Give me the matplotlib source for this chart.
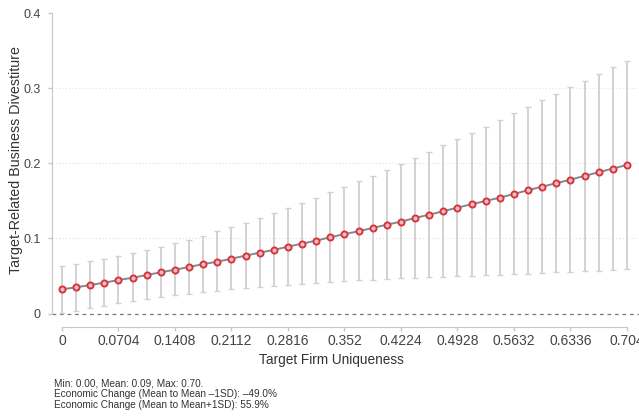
"""
Marginal effect of target firm uniqueness on target-related business divestiture.
Predicted values with 95% confidence intervals across the uniqueness range.
"""

import numpy as np
import matplotlib.pyplot as plt

# ──────────────────────────────────────────────
# Data
# ──────────────────────────────────────────────
uniqueness = np.round(np.arange(41) * 0.0176, 4)

predicted = [
    0.0323, 0.0349, 0.0380, 0.0411, 0.0447, 0.0476, 0.0513, 0.0549, 0.0584, 0.0620,
    0.0658, 0.0690, 0.0731, 0.0771, 0.0811, 0.0847, 0.0891, 0.0931, 0.0971, 0.1016,
    0.1058, 0.1096, 0.1140, 0.1184, 0.1224, 0.1273, 0.1317, 0.1363, 0.1411, 0.1456,
    0.1500, 0.1544, 0.1593, 0.1643, 0.1691, 0.1736, 0.1784, 0.1833, 0.1883, 0.1931,
    0.1980,
]
ci_upper = [
    0.0637, 0.0664, 0.0700, 0.0730, 0.0767, 0.0807, 0.0847, 0.0887, 0.0940, 0.0984,
    0.1037, 0.1100, 0.1153, 0.1211, 0.1273, 0.1336, 0.1403, 0.1473, 0.1540, 0.1620,
    0.1689, 0.1763, 0.1837, 0.1917, 0.1997, 0.2073, 0.2157, 0.2243, 0.2323, 0.2411,
    0.2491, 0.2580, 0.2669, 0.2753, 0.2843, 0.2931, 0.3016, 0.3104, 0.3193, 0.3283,
    0.3371,
]
ci_lower = [
    0.0010, 0.0037, 0.0073, 0.0104, 0.0136, 0.0163, 0.0190, 0.0220, 0.0243, 0.0264,
    0.0283, 0.0304, 0.0323, 0.0344, 0.0357, 0.0371, 0.0384, 0.0397, 0.0407, 0.0420,
    0.0429, 0.0443, 0.0451, 0.0460, 0.0469, 0.0477, 0.0483, 0.0491, 0.0496, 0.0504,
    0.0509, 0.0517, 0.0527, 0.0531, 0.0540, 0.0549, 0.0553, 0.0563, 0.0571, 0.0580,
    0.0589,
]

x_ticks = [0, 0.0704, 0.1408, 0.2112, 0.2816, 0.352, 0.4224, 0.4928, 0.5632, 0.6336, 0.704]
x_tick_labels = ["0", "0.0704", "0.1408", "0.2112", "0.2816", "0.352",
                 "0.4224", "0.4928", "0.5632", "0.6336", "0.704"]
y_ticks = [0, 0.1, 0.2, 0.3, 0.4]
y_tick_labels = ["0", "0.1", "0.2", "0.3", "0.4"]

notes = [
    "Min: 0.00, Mean: 0.09, Max: 0.70.",
    "Economic Change (Mean to Mean \u20131SD): \u201349.0%",
    "Economic Change (Mean to Mean+1SD): 55.9%",
]

# ──────────────────────────────────────────────
# Plot
# ──────────────────────────────────────────────
plt.rcParams.update({
    "font.family": ["Liberation Sans", "DejaVu Sans"],
    "axes.edgecolor": "#c8c8c8",
    "xtick.color": "#c8c8c8",
    "ytick.color": "#c8c8c8",
    "xtick.labelcolor": "#444444",
    "ytick.labelcolor": "#444444",
})

W, H = 639, 417
fig = plt.figure(figsize=(W / 100, H / 100), dpi=100)
ax = fig.add_axes([52 / W, 1 - 313.5 / H, 587 / W, 300.2 / H])

pred = np.array(predicted)
lo = np.array(ci_lower)
hi = np.array(ci_upper)

# Confidence intervals
ax.errorbar(
    uniqueness, pred, yerr=[pred - lo, hi - pred],
    fmt="none", ecolor="#d2d2d2", elinewidth=1.4, capsize=2.3, capthick=1.0,
    zorder=2,
)

# Predicted values
ax.plot(
    uniqueness, pred,
    color="#7d8a90", linewidth=1.4,
    marker="o", markersize=4.4, markerfacecolor="#f5c0c2",
    markeredgecolor="#d8343c", markeredgewidth=1.4,
    zorder=3,
)

# Reference line at zero
ax.axhline(0, color="#777777", linewidth=0.9, linestyle=(0, (3, 3)), zorder=1, clip_on=False)

# Horizontal gridlines
for yv in y_ticks[1:4]:
    ax.axhline(yv, color="#e2e2e2", linewidth=0.8, linestyle=(0, (1, 2)), zorder=0)

ax.set_xlim(-0.01246, 0.7190)
ax.set_ylim(0, 0.4)

ax.set_xticks(x_ticks)
ax.set_xticklabels(x_tick_labels, fontsize=9)
ax.set_yticks(y_ticks)
ax.set_yticklabels(y_tick_labels, fontsize=9)
ax.tick_params(axis="both", length=3.2, width=1.0)
ax.tick_params(axis="x", pad=1.5)
ax.tick_params(axis="y", pad=5)

for side in ("top", "right"):
    ax.spines[side].set_visible(False)
ax.spines["left"].set_bounds(0, 0.4)
ax.spines["bottom"].set_bounds(0, 0.704)
ax.spines["bottom"].set_position(("outward", 10))

# Axis titles
fig.text(331 / W, 1 - 360 / H, "Target Firm Uniqueness",
         fontsize=9.8, color="#333333", ha="center", va="center")
fig.text(16 / W, 1 - 160 / H, "Target-Related Business Divestiture",
         fontsize=10.3, color="#333333", ha="center", va="center", rotation=90)

# Notes below the chart
for i, line in enumerate(notes):
    fig.text(54 / W, 1 - (383.5 + i * 10.8) / H, line,
             fontsize=7.2, color="#333333", ha="left", va="center")

fig.savefig("out.png", dpi=100)
plt.close(fig)
